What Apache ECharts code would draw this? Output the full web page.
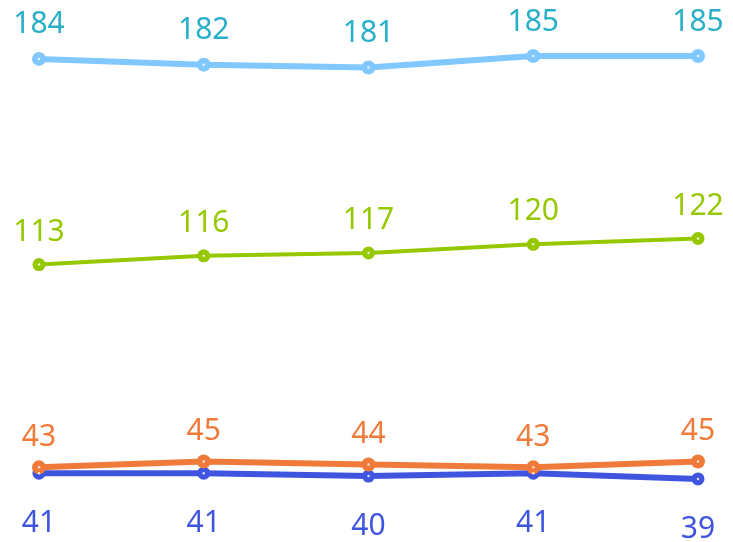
<!DOCTYPE html>
<html>
<head>
<meta charset="utf-8">
<script src="https://cdn.jsdelivr.net/npm/echarts@6/dist/echarts.min.js"></script>
<style>
  html, body { margin: 0; padding: 0; background: #fff; }
  #chart { width: 733px; height: 542px; }
</style>
</head>
<body>
<div id="chart"></div>
<script>
const categories = ['1', '2', '3', '4', '5']
const topValues = [184, 182, 181, 185, 185]
const greenValues = [113, 116, 117, 120, 122]
const orangeValues = [43, 45, 44, 43, 45]
const blueValues = [41, 41, 40, 41, 39]

const chart = echarts.init(document.getElementById('chart'), null, { renderer: 'canvas' })

function makeSeries(name, data, lineColor, labelColor, width, dotSize, position, distance) {
  return {
    name: name,
    type: 'line',
    data: data,
    symbol: 'circle',
    symbolSize: dotSize,
    showSymbol: true,
    lineStyle: { color: lineColor, width: width },
    itemStyle: { color: lineColor },
    label: {
      show: true,
      position: position,
      distance: distance,
      color: labelColor,
      fontSize: 30,
      fontFamily: 'Noto Sans, sans-serif'
    },
    emphasis: { disabled: true },
    z: 2
  }
}

// small white centre dot drawn over each point
function makeCentre(data) {
  return {
    type: 'scatter',
    data: data,
    symbol: 'circle',
    symbolSize: 2.5,
    itemStyle: { color: '#ffffff' },
    silent: true,
    z: 3
  }
}

chart.setOption({
  backgroundColor: '#ffffff',
  animation: false,
  grid: { left: 39, right: 35, top: 41.5, bottom: 37 },
  xAxis: {
    type: 'category',
    data: categories,
    boundaryGap: false,
    show: false
  },
  yAxis: {
    type: 'value',
    min: 30,
    max: 190,
    show: false
  },
  series: [
    makeSeries('top', topValues, '#80c8ff', '#27b0c8', 6, 14, 'top', 12),
    makeSeries('green', greenValues, '#96c800', '#96c800', 4, 13, 'top', 11),
    makeSeries('blue', blueValues, '#3f55e0', '#3f55e0', 6, 13, 'bottom', 29),
    makeSeries('orange', orangeValues, '#ef7a3a', '#ef7a3a', 6, 14, 'top', 8),
    makeCentre(topValues),
    makeCentre(greenValues),
    makeCentre(blueValues),
    makeCentre(orangeValues)
  ]
})
</script>
</body>
</html>
